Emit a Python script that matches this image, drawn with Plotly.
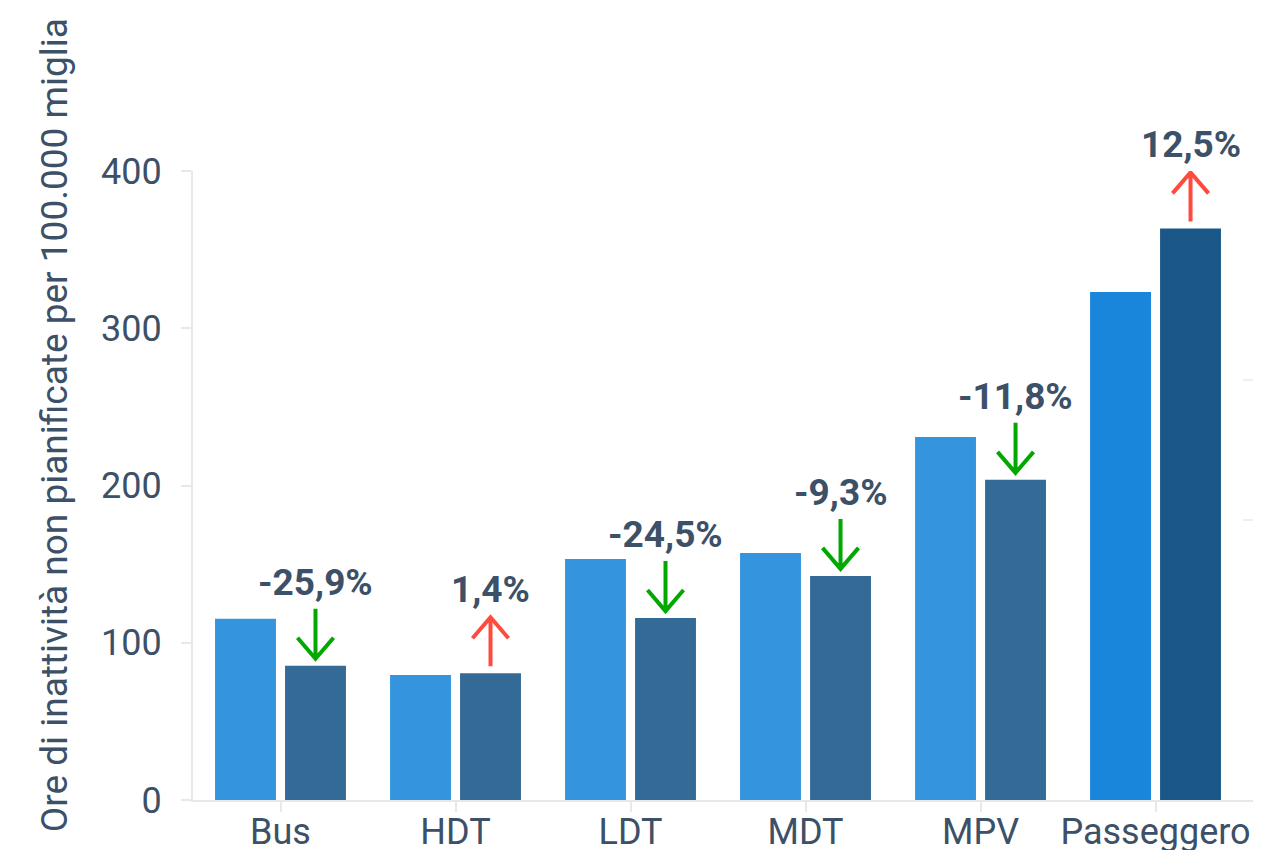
import plotly.graph_objects as go

categories = ["Bus", "HDT", "LDT", "MDT", "MPV", "Passeggero"]
prev_hours = [115.2, 79.5, 153.3, 157.1, 230.8, 323.1]
curr_hours = [85.4, 80.6, 115.7, 142.5, 203.6, 363.5]
change_labels = ["-25,9%", "1,4%", "-24,5%", "-9,3%", "-11,8%", "12,5%"]

y_ticks = [0, 100, 200, 300, 400]

TEXT = "#3c5068"
GRID = "#e8e8e8"
prev_colors = ["#3494dd"] * 5 + ["#1a86db"]
curr_colors = ["#336a96"] * 5 + ["#1b5889"]

fig = go.Figure()
fig.add_trace(go.Bar(x=categories, y=prev_hours, marker_color=prev_colors,
                     marker_line_width=0, name="prev"))
fig.add_trace(go.Bar(x=categories, y=curr_hours, marker_color=curr_colors,
                     marker_line_width=0, name="curr"))

# change labels + open arrows above the second bar of each group
for i, (p, c, lab) in enumerate(zip(prev_hours, curr_hours, change_labels)):
    fig.add_annotation(
        x=i + 0.2, y=c, xref="x", yref="y", text=f"<b>{lab}</b>",
        showarrow=False, yanchor="bottom", yshift=60,
        font=dict(family="Roboto", size=37, color=TEXT),
    )
    if c < p:
        path = "M0,57 L0,7 M-18,28 L0,7 L18,28"
        color = "#00a800"
    else:
        path = "M0,7 L0,56 M-18,35 L0,56 L18,35"
        color = "#ff4b3e"
    fig.add_shape(
        type="path", xref="x", yref="y",
        xsizemode="pixel", ysizemode="pixel",
        xanchor=i + 0.2, yanchor=c, path=path,
        line=dict(color=color, width=4),
    )

# y axis title
fig.add_annotation(
    x=-0.131, y=0.596, xref="paper", yref="paper",
    text="Ore di inattività non pianificate per 100.000 miglia",
    textangle=-90, showarrow=False, xanchor="center", yanchor="middle",
    font=dict(family="Roboto", size=37, color=TEXT),
)

fig.update_layout(
    template="none",
    width=1270, height=850,
    margin=dict(l=185, r=25, t=163, b=58),
    paper_bgcolor="white", plot_bgcolor="white",
    barmode="group", bargap=0.2, bargroupgap=0.13,
    showlegend=False,
    font=dict(family="Roboto", color=TEXT, size=36),
)
fig.update_xaxes(
    range=[-0.5, 5.557], showgrid=False, showline=True, linecolor=GRID, linewidth=2,
    ticks="outside", ticklen=10, tickcolor=GRID, tickwidth=2, ticklabelstandoff=-11,
    tickfont=dict(family="Roboto", size=36, color=TEXT), automargin=False,
)
fig.update_yaxes(
    range=[0, 400], tickvals=y_ticks, showgrid=False, zeroline=False,
    showline=True, linecolor=GRID, linewidth=2,
    ticks="outside", ticklen=10, tickcolor=GRID, tickwidth=2, ticklabelstandoff=12,
    tickfont=dict(family="Roboto", size=36, color=TEXT), automargin=False,
)
fig.update_layout(
    yaxis2=dict(overlaying="y", side="right", range=[0, 400], tickvals=[178, 267],
                showticklabels=False, ticks="inside", ticklen=10, tickwidth=2,
                tickcolor="#efefef", showgrid=False, showline=False, zeroline=False)
)
fig.add_trace(go.Scatter(x=[], y=[], yaxis="y2", showlegend=False))

fig.write_html("out.html")
